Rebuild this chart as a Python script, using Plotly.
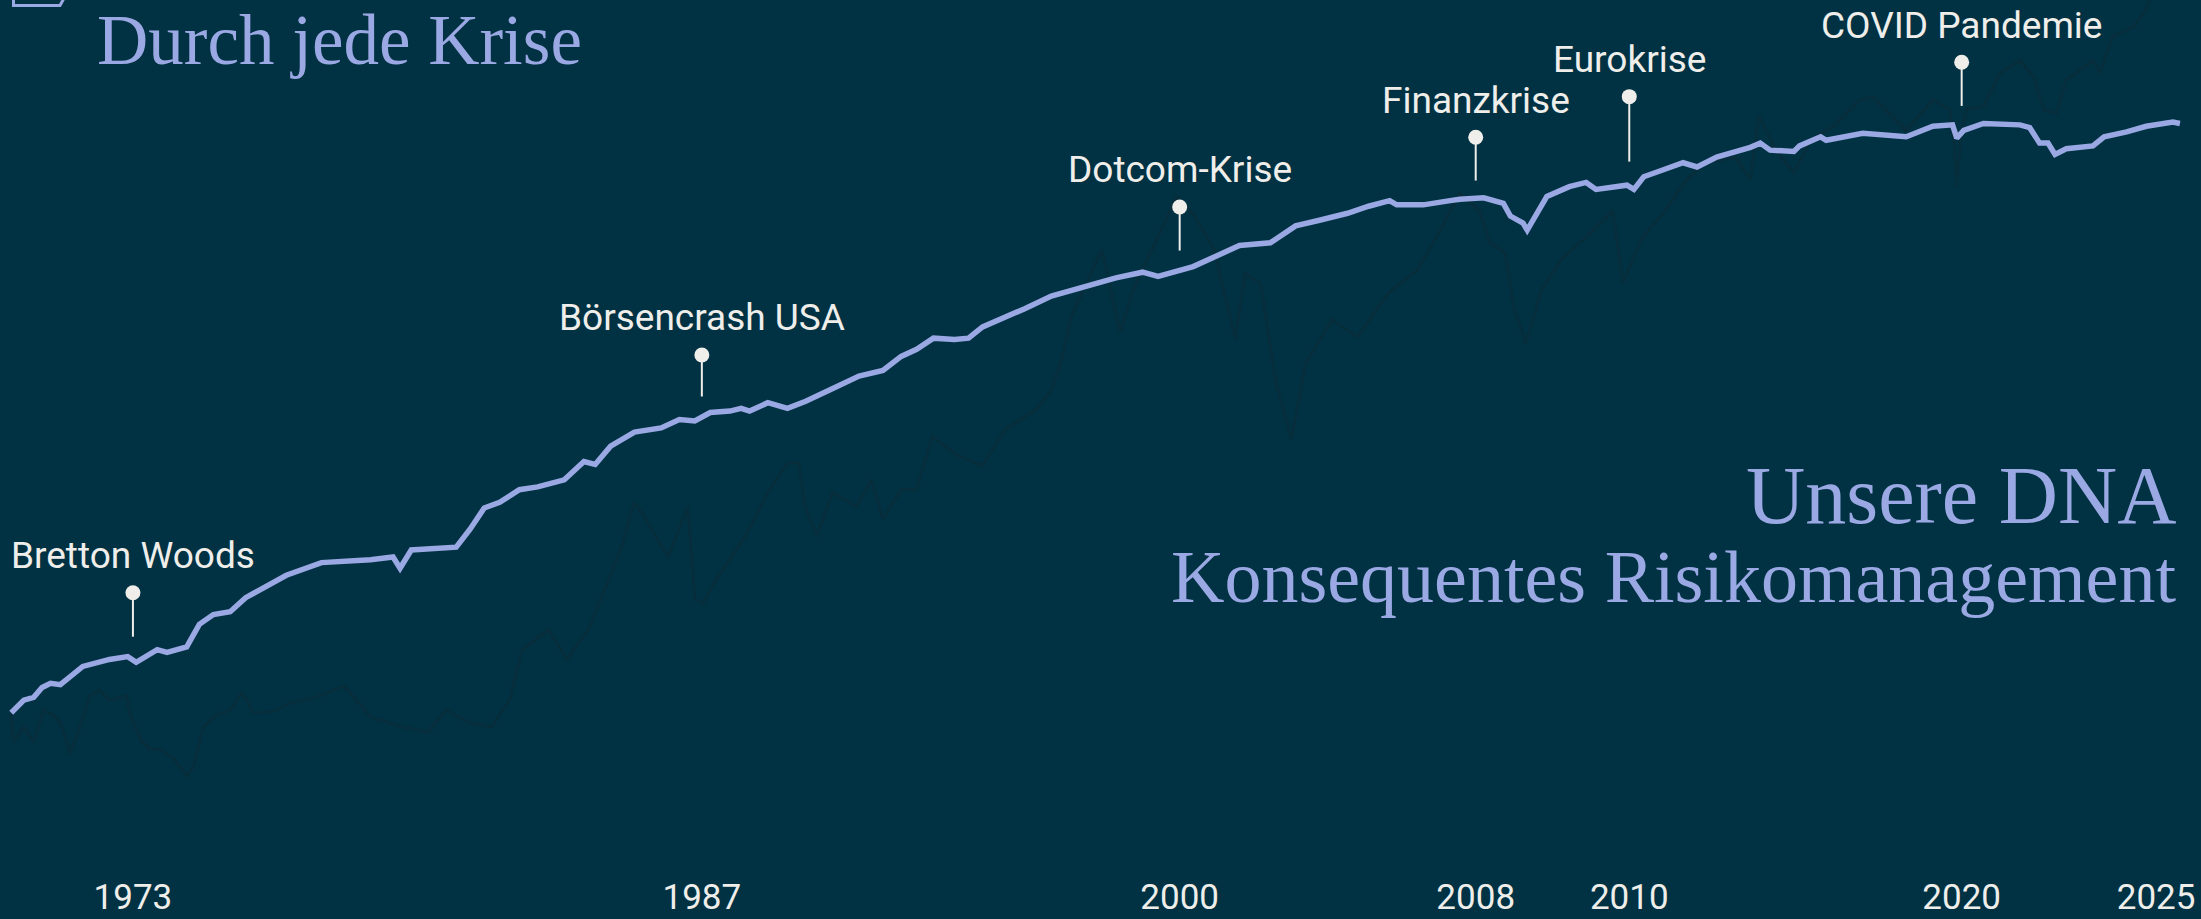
import plotly.graph_objects as go

# ---------------- data ----------------
# time position along the chart and index level of the strategy (light line)
strategie_t = [8, 17, 24, 30, 36, 43, 59, 78, 91, 97, 112, 119, 133, 142, 152, 164, 175, 190, 204, 229,
               250, 264, 280, 285, 293, 310, 325, 335, 345, 356, 370, 383, 402, 416, 424, 435, 452, 471,
               484, 495, 506, 520, 528, 534, 547, 561, 574, 591, 612, 629, 642, 653, 665, 680, 690, 700,
               712, 730, 749, 774, 795, 814, 825, 850, 865, 883, 905, 923, 940, 960, 975, 990, 995, 1014,
               1033, 1040, 1057, 1071, 1076, 1085, 1088, 1095, 1102, 1118, 1130, 1137, 1159, 1164, 1171,
               1185, 1199, 1209, 1223, 1247, 1254, 1261, 1278, 1282, 1297, 1301, 1327, 1358, 1377, 1391,
               1394, 1399, 1413, 1439, 1446, 1453, 1459, 1464, 1472, 1491, 1499, 1515, 1529, 1548, 1553]
strategie_wert = [147, 156, 158, 165, 168, 167, 180, 185, 187, 183, 192, 190, 194, 210, 217, 219, 229, 237,
                  245, 254, 255, 256, 258, 250, 263, 264, 265, 278, 293, 297, 306, 308, 313, 326, 324, 337,
                  347, 350, 356, 355, 361, 362, 364, 362, 368, 364, 369, 377, 387, 391, 401, 406, 414, 413,
                  414, 422, 427, 435, 444, 451, 457, 461, 458, 465, 472, 480, 482, 494, 498, 503, 508, 512,
                  509, 509, 512, 513, 514, 510, 501, 496, 491, 503, 515, 522, 525, 520, 523, 520, 529, 534,
                  539, 536, 543, 550, 553, 548, 547, 551, 557.5, 555, 560, 557.5, 565, 566, 556.5, 562, 567,
                  566, 564, 553, 553, 545, 549, 551, 557.5, 561, 565, 568, 567]

# market index (faint dark line)
markt_t = [8, 9.5, 17, 24, 31, 38, 43, 50, 57, 64, 71, 78, 90, 93, 100, 107, 114, 124, 133, 138, 145, 154,
           164, 172, 176, 180, 188, 197, 207, 225, 245, 255, 264, 286, 305, 318, 334, 350, 363, 372, 391,
           404, 420, 436, 442, 452, 460, 476, 490, 495, 501, 509, 531, 547, 561, 569, 574, 582, 593, 610,
           621, 629, 642, 653, 664, 683, 700, 716, 738, 749, 757, 763, 785, 798, 807, 832, 838, 851, 865,
           880, 887, 898, 909, 920, 930, 949, 967, 989, 1010, 1025, 1040, 1054, 1061, 1072, 1079, 1087,
           1098, 1112, 1130, 1149, 1156, 1170, 1185, 1200, 1214, 1236, 1247, 1253, 1265, 1278, 1290, 1306,
           1325, 1334, 1345, 1358, 1377, 1389, 1392, 1394, 1397, 1401, 1413, 1425, 1439, 1449, 1456, 1465,
           1472, 1491, 1496, 1505, 1520, 1529, 1534, 1545, 1553]
markt_wert = [147, 126, 137, 126, 149, 145, 140, 118, 137, 159, 163, 156, 159, 145, 128, 121, 121, 114, 102,
              109, 137, 145, 149, 161, 156, 147, 147, 149, 154, 158, 166, 155, 144, 137, 133, 149, 140, 137,
              156, 192, 206, 185, 208, 249, 263, 297, 285, 258, 294, 228, 225, 240, 273, 304, 325, 325, 292,
              273, 304, 294, 313, 285, 306, 306, 344, 330, 323, 349, 363, 377, 401, 429, 477, 418, 448, 501,
              515, 501, 477, 413, 460, 453, 382, 342, 396, 427, 415, 446, 463, 489, 517, 505, 482, 475, 434,
              410, 448, 470, 486, 505, 453, 486, 503, 525, 539, 543, 527, 573, 548, 532, 555, 565, 584, 586,
              575, 562, 584, 577, 555, 522, 560, 577, 579, 603, 612, 600, 577, 574, 598, 612, 603, 629, 636,
              648, 663, 675, 685]

# crisis markers
ereignisse = ["Bretton Woods", "Börsencrash USA", "Dotcom-Krise", "Finanzkrise", "Eurokrise", "COVID Pandemie"]
ereignis_t = [94.7, 500, 840.4, 1051.3, 1160.7, 1397.5]
punkt_wert = [232.5, 402, 507.5, 557.2, 586.1, 610.6]
stiel_ende = [201.2, 372.4, 476.4, 526.3, 539.8, 579.5]

# axis ticks
jahre = ["1973", "1987", "2000", "2008", "2010", "2020", "2025"]
jahr_t = [94.7, 500, 840.4, 1051.3, 1160.7, 1397.5, 1536]

# ---------------- styling ----------------
W, H = 2201, 919
BG = "#013243"
LILA = "#9aa8e3"
WEISS = "#efeeea"
DUNKEL = "#0c2b37"

fig = go.Figure()

# faint market line drawn as a thin outline (dark stroke with background core)
fig.add_trace(go.Scatter(x=markt_t, y=markt_wert, mode="lines",
                         line=dict(color=DUNKEL, width=2.6), hoverinfo="skip", showlegend=False))
fig.add_trace(go.Scatter(x=markt_t, y=markt_wert, mode="lines",
                         line=dict(color=BG, width=1.0), hoverinfo="skip", showlegend=False))

# strategy line
fig.add_trace(go.Scatter(x=strategie_t, y=strategie_wert, mode="lines",
                         line=dict(color=LILA, width=5.5), showlegend=False))

# marker stems
stem_x, stem_y = [], []
for t, a, b in zip(ereignis_t, stiel_ende, punkt_wert):
    stem_x += [t, t, None]
    stem_y += [a, b, None]
fig.add_trace(go.Scatter(x=stem_x, y=stem_y, mode="lines",
                         line=dict(color=WEISS, width=2), showlegend=False, hoverinfo="skip"))
# marker dots
fig.add_trace(go.Scatter(x=ereignis_t, y=punkt_wert, mode="markers",
                         marker=dict(color=WEISS, size=15, line=dict(width=0)),
                         text=ereignisse, hoverinfo="text", showlegend=False))

annotations = []
for name, t, v in zip(ereignisse, ereignis_t, punkt_wert):
    annotations.append(dict(x=t, y=v, xref="x", yref="y", text=name, showarrow=False,
                            xanchor="center", yanchor="middle", yshift=37,
                            font=dict(family="Roboto", size=37, color=WEISS)))

SERIF = "Liberation Serif"
annotations += [
    dict(x=95 / W, y=1 - 40 / H, xref="paper", yref="paper", text="Durch jede Krise",
         showarrow=False, xanchor="left", yanchor="middle",
         font=dict(family=SERIF, size=71, color=LILA)),
    dict(x=2178 / W, y=1 - 495 / H, xref="paper", yref="paper", text="Unsere DNA",
         showarrow=False, xanchor="right", yanchor="middle",
         font=dict(family=SERIF, size=82, color=LILA)),
    dict(x=2178 / W, y=1 - 577 / H, xref="paper", yref="paper", text="Konsequentes Risikomanagement",
         showarrow=False, xanchor="right", yanchor="middle",
         font=dict(family=SERIF, size=74, color=LILA)),
]

# logo fragment in the top-left corner
logo_path = "M {x0} {y0} L {x0} {y1} L {x1} {y1} L {x2} {y0}".format(
    x0=13.5 / W, x1=60 / W, x2=68 / W, y0=1.01, y1=1 - 5.5 / H)

fig.update_layout(
    width=W, height=H,
    margin=dict(l=0, r=0, t=0, b=0),
    paper_bgcolor=BG, plot_bgcolor=BG,
    showlegend=False,
    annotations=annotations,
    shapes=[dict(type="path", path=logo_path, xref="paper", yref="paper",
                 line=dict(color=LILA, width=3))],
    xaxis=dict(range=[0, 1568], showgrid=False, zeroline=False, showline=False,
               tickmode="array", tickvals=jahr_t, ticktext=jahre, ticks="",
               ticklabelposition="inside", ticklabeloverflow="allow",
               tickfont=dict(family="Roboto", size=35, color=WEISS), fixedrange=True),
    yaxis=dict(range=[0, 655], showgrid=False, zeroline=False, showline=False,
               showticklabels=False, fixedrange=True),
)

fig.write_html(
    "out.html",
    config={"displayModeBar": False},
    post_script="document.body.style.margin='0';document.body.style.padding='0';"
                "document.body.style.overflow='hidden';document.body.style.background='" + BG + "';",
)
